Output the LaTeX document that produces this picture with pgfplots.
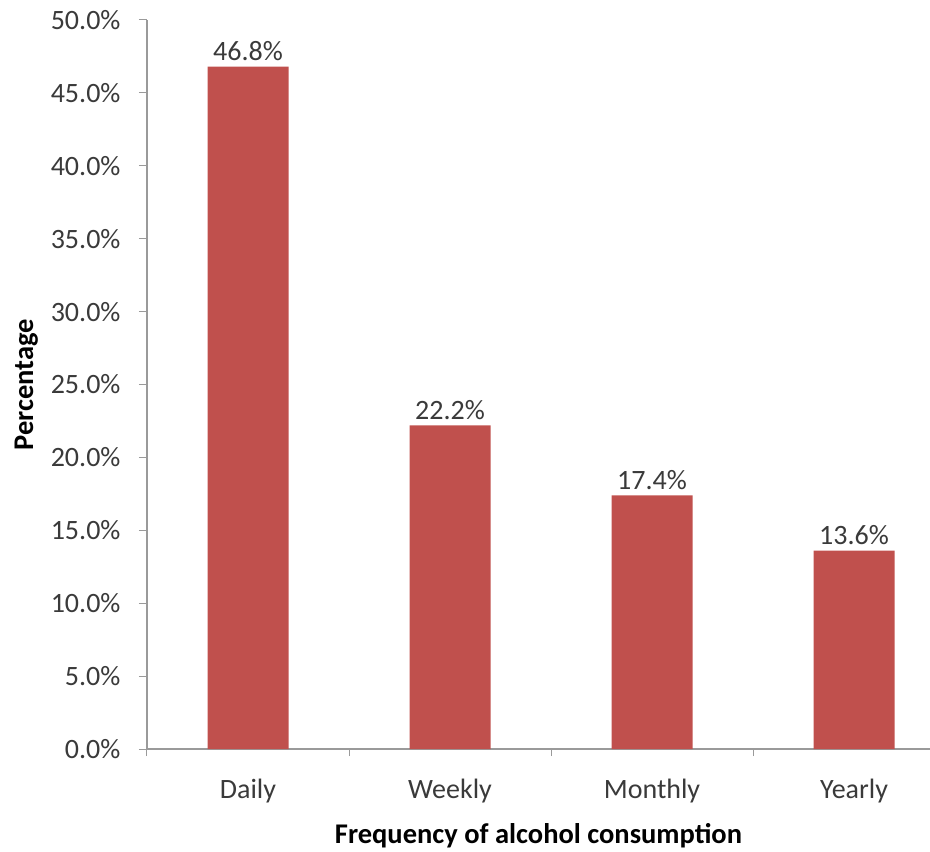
\documentclass[border=0pt]{standalone}
\usepackage{fontspec}
\setmainfont{Carlito}
\usepackage{pgfplots}
\pgfplotsset{compat=1.18}
\definecolor{barred}{HTML}{C0504D}
\definecolor{axisgrey}{HTML}{9A9A9A}
\definecolor{txt}{HTML}{3A3A3A}
\begin{document}
\begin{tikzpicture}
\begin{axis}[
    scale only axis,
    width=783pt, height=729pt,
    xmin=-0.5, xmax=3.376,
    ymin=0, ymax=50,
    axis x line*=bottom,
    axis y line*=left,
    axis line style={axisgrey, line width=1.3pt},
    tick align=outside,
    xtick={0,1,2,3},
    xticklabels={Daily,Weekly,Monthly,Yearly},
    major x tick style={draw=none},
    minor xtick={-0.5,0.5,1.5,2.5},
    minor tick length=7pt,
    major tick length=8pt,
    every tick/.style={axisgrey, line width=1pt},
    ytick={0,5,...,50},
    /pgf/number format/assume math mode=true,
    yticklabel={\pgfmathprintnumber[fixed,fixed zerofill,precision=1]{\tick}\%},
    ticklabel style={font=\fontsize{28}{30}\selectfont, text=txt},
    yticklabel style={xshift=-15pt},
    xticklabel style={yshift=-19pt},
    xlabel={\textbf{Frequency of alcohol consumption}},
    ylabel={\textbf{Percentage}},
    label style={font=\fontsize{28.5}{30}\selectfont, text=black},
    xlabel style={yshift=-13pt},
    ylabel style={yshift=6pt},
]
\addplot[ybar, bar width=81pt, fill=barred, draw=none,
    nodes near coords={\pgfmathprintnumber[fixed,fixed zerofill,precision=1]{\pgfplotspointmeta}\%},
    every node near coord/.append style={font=\fontsize{28}{30}\selectfont, text=txt, yshift=2pt}]
    coordinates {(0,46.8)(1,22.2)(2,17.4)(3,13.6)};
\end{axis}
\pgfresetboundingbox
\path (-147pt,-103pt) rectangle (783pt,749pt);
\end{tikzpicture}
\end{document}
